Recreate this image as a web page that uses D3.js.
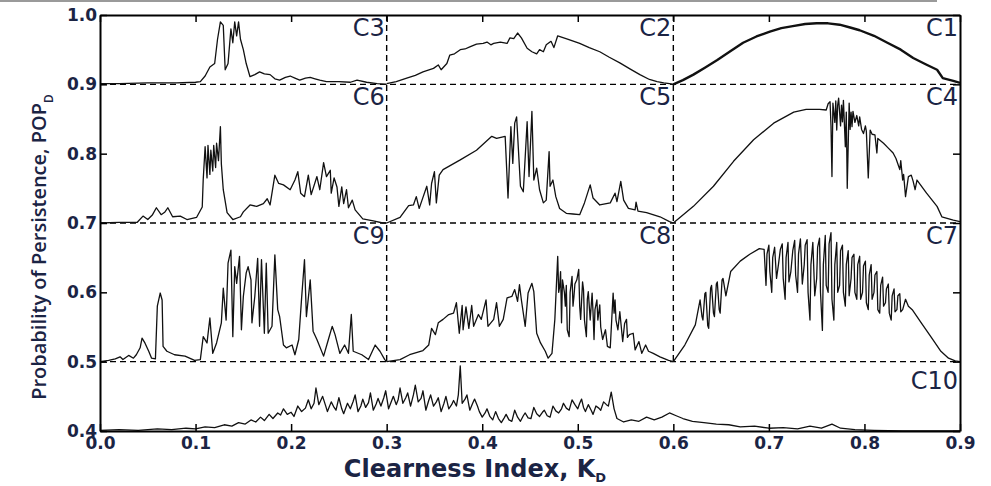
<!DOCTYPE html>
<html>
<head>
<meta charset="utf-8">
<script src="https://cdn.jsdelivr.net/npm/d3@7"></script>
<style>
  body { margin: 0; background: #fff; }
  svg { display: block; }
</style>
</head>
<body>
<svg id="chart" width="991" height="486"></svg>
<script>
// tick values
const xTicks = [0.0, 0.1, 0.2, 0.3, 0.4, 0.5, 0.6, 0.7, 0.8, 0.9];
const yTicks = [0.4, 0.5, 0.6, 0.7, 0.8, 0.9, 1.0];

// cell boundaries (dashed lines)
const hDash = [0.9, 0.7, 0.5];
const vDash = [0.3, 0.6];

// series, [K_D, POP_D]
const c1 = [[0.600,0.900],[0.610,0.906],[0.621,0.914],[0.633,0.924],[0.646,0.935],[0.660,0.948],[0.673,0.960],[0.687,0.969],[0.701,0.976],[0.713,0.981],[0.725,0.984],[0.738,0.987],[0.750,0.988],[0.762,0.988],[0.774,0.986],[0.785,0.982],[0.795,0.978],[0.810,0.970],[0.824,0.960],[0.838,0.950],[0.851,0.938],[0.864,0.929],[0.876,0.921],[0.882,0.909],[0.893,0.905],[0.900,0.902]];

const c2 = [[0.300,0.901],[0.310,0.904],[0.321,0.909],[0.330,0.913],[0.338,0.918],[0.349,0.923],[0.354,0.928],[0.357,0.921],[0.363,0.930],[0.366,0.942],[0.371,0.944],[0.377,0.950],[0.382,0.951],[0.387,0.954],[0.394,0.958],[0.401,0.959],[0.405,0.961],[0.409,0.957],[0.412,0.959],[0.419,0.961],[0.426,0.959],[0.429,0.967],[0.433,0.966],[0.437,0.974],[0.441,0.967],[0.447,0.952],[0.452,0.947],[0.457,0.944],[0.460,0.950],[0.464,0.947],[0.467,0.957],[0.472,0.962],[0.475,0.953],[0.479,0.970],[0.490,0.965],[0.502,0.959],[0.512,0.953],[0.523,0.947],[0.533,0.939],[0.544,0.931],[0.555,0.922],[0.565,0.914],[0.575,0.907],[0.583,0.904],[0.590,0.902],[0.596,0.901],[0.600,0.900]];

const c3 = [[0.000,0.901],[0.020,0.901],[0.050,0.902],[0.080,0.902],[0.100,0.903],[0.105,0.904],[0.110,0.912],[0.115,0.925],[0.120,0.930],[0.123,0.965],[0.126,0.990],[0.129,0.985],[0.131,0.921],[0.134,0.930],[0.137,0.980],[0.139,0.960],[0.141,0.990],[0.143,0.970],[0.145,0.990],[0.147,0.965],[0.150,0.950],[0.153,0.930],[0.157,0.911],[0.162,0.914],[0.167,0.918],[0.172,0.915],[0.178,0.914],[0.183,0.908],[0.188,0.906],[0.194,0.910],[0.199,0.912],[0.204,0.909],[0.209,0.906],[0.215,0.909],[0.220,0.910],[0.225,0.908],[0.230,0.906],[0.237,0.904],[0.250,0.904],[0.262,0.903],[0.269,0.906],[0.279,0.903],[0.290,0.901],[0.300,0.900]];

const c4 = [[0.600,0.700],[0.621,0.724],[0.642,0.753],[0.663,0.789],[0.684,0.820],[0.705,0.844],[0.726,0.860],[0.739,0.864],[0.753,0.864],[0.760,0.863],[0.762,0.872],[0.764,0.875],[0.765,0.840],[0.766,0.767],[0.767,0.873],[0.769,0.845],[0.770,0.876],[0.771,0.834],[0.772,0.870],[0.773,0.880],[0.775,0.840],[0.776,0.870],[0.777,0.846],[0.778,0.877],[0.780,0.810],[0.781,0.860],[0.782,0.750],[0.784,0.873],[0.785,0.835],[0.786,0.860],[0.787,0.839],[0.788,0.861],[0.790,0.845],[0.792,0.855],[0.794,0.840],[0.795,0.853],[0.797,0.835],[0.799,0.829],[0.801,0.840],[0.802,0.832],[0.804,0.765],[0.806,0.834],[0.808,0.828],[0.811,0.827],[0.813,0.801],[0.814,0.822],[0.820,0.815],[0.825,0.808],[0.830,0.801],[0.833,0.793],[0.835,0.785],[0.837,0.777],[0.838,0.790],[0.840,0.762],[0.841,0.770],[0.843,0.738],[0.846,0.767],[0.849,0.769],[0.851,0.760],[0.853,0.748],[0.855,0.762],[0.865,0.743],[0.876,0.724],[0.881,0.709],[0.893,0.704],[0.900,0.702]];

const c5 = [[0.300,0.700],[0.314,0.708],[0.323,0.725],[0.328,0.726],[0.331,0.738],[0.334,0.721],[0.337,0.733],[0.342,0.753],[0.345,0.726],[0.347,0.757],[0.350,0.774],[0.352,0.729],[0.355,0.769],[0.359,0.777],[0.377,0.791],[0.394,0.805],[0.410,0.825],[0.415,0.822],[0.424,0.825],[0.427,0.736],[0.430,0.839],[0.432,0.786],[0.434,0.844],[0.436,0.853],[0.440,0.753],[0.443,0.745],[0.447,0.846],[0.449,0.767],[0.452,0.861],[0.454,0.762],[0.457,0.779],[0.460,0.748],[0.464,0.729],[0.467,0.733],[0.470,0.803],[0.471,0.753],[0.474,0.762],[0.477,0.738],[0.481,0.721],[0.488,0.714],[0.495,0.713],[0.502,0.712],[0.507,0.729],[0.513,0.755],[0.516,0.736],[0.523,0.726],[0.534,0.729],[0.539,0.743],[0.541,0.731],[0.545,0.760],[0.548,0.733],[0.553,0.721],[0.560,0.719],[0.561,0.730],[0.563,0.717],[0.572,0.715],[0.586,0.709],[0.596,0.702],[0.600,0.700]];

const c6 = [[0.000,0.700],[0.020,0.701],[0.039,0.701],[0.045,0.710],[0.050,0.705],[0.055,0.712],[0.059,0.722],[0.064,0.712],[0.068,0.716],[0.071,0.722],[0.076,0.709],[0.084,0.710],[0.091,0.705],[0.101,0.708],[0.107,0.723],[0.108,0.762],[0.110,0.810],[0.112,0.765],[0.113,0.812],[0.115,0.770],[0.116,0.805],[0.118,0.775],[0.119,0.812],[0.121,0.780],[0.122,0.815],[0.124,0.790],[0.126,0.839],[0.127,0.785],[0.129,0.748],[0.133,0.715],[0.139,0.705],[0.147,0.709],[0.150,0.716],[0.157,0.726],[0.164,0.724],[0.171,0.728],[0.175,0.735],[0.178,0.726],[0.183,0.769],[0.187,0.757],[0.192,0.755],[0.199,0.748],[0.204,0.762],[0.207,0.774],[0.210,0.743],[0.214,0.738],[0.218,0.769],[0.221,0.741],[0.227,0.767],[0.230,0.748],[0.234,0.787],[0.237,0.767],[0.241,0.776],[0.242,0.743],[0.245,0.765],[0.248,0.752],[0.250,0.724],[0.253,0.752],[0.255,0.728],[0.258,0.748],[0.260,0.722],[0.264,0.733],[0.267,0.719],[0.275,0.706],[0.286,0.703],[0.296,0.700],[0.300,0.700]];

const c7 = [[0.600,0.500],[0.612,0.524],[0.623,0.553],[0.628,0.589],[0.630,0.565],[0.631,0.560],[0.633,0.598],[0.634,0.600],[0.636,0.552],[0.637,0.548],[0.639,0.606],[0.640,0.610],[0.642,0.570],[0.643,0.565],[0.645,0.612],[0.646,0.615],[0.648,0.575],[0.649,0.570],[0.651,0.618],[0.652,0.620],[0.655,0.595],[0.660,0.630],[0.670,0.645],[0.680,0.655],[0.690,0.663],[0.695,0.662],[0.697,0.610],[0.698,0.655],[0.700,0.668],[0.701,0.630],[0.703,0.600],[0.704,0.650],[0.706,0.665],[0.708,0.620],[0.710,0.640],[0.712,0.662],[0.714,0.670],[0.715,0.620],[0.717,0.590],[0.718,0.650],[0.720,0.672],[0.721,0.615],[0.723,0.630],[0.725,0.660],[0.727,0.675],[0.728,0.625],[0.730,0.600],[0.731,0.655],[0.733,0.677],[0.735,0.612],[0.737,0.640],[0.738,0.668],[0.740,0.676],[0.741,0.600],[0.743,0.560],[0.744,0.640],[0.746,0.672],[0.748,0.595],[0.750,0.620],[0.751,0.665],[0.753,0.678],[0.754,0.600],[0.756,0.545],[0.757,0.640],[0.759,0.682],[0.760,0.610],[0.762,0.600],[0.763,0.670],[0.765,0.686],[0.766,0.590],[0.768,0.560],[0.769,0.640],[0.771,0.672],[0.772,0.600],[0.774,0.610],[0.775,0.660],[0.777,0.668],[0.778,0.600],[0.780,0.580],[0.781,0.640],[0.783,0.660],[0.784,0.595],[0.786,0.620],[0.787,0.650],[0.789,0.655],[0.790,0.600],[0.792,0.590],[0.793,0.640],[0.795,0.652],[0.796,0.590],[0.798,0.600],[0.799,0.638],[0.801,0.645],[0.802,0.585],[0.804,0.575],[0.805,0.625],[0.807,0.640],[0.808,0.590],[0.810,0.600],[0.811,0.625],[0.813,0.630],[0.814,0.575],[0.816,0.570],[0.817,0.610],[0.819,0.622],[0.820,0.580],[0.822,0.585],[0.823,0.605],[0.825,0.612],[0.826,0.570],[0.828,0.560],[0.829,0.595],[0.831,0.605],[0.832,0.572],[0.834,0.575],[0.835,0.595],[0.837,0.598],[0.838,0.572],[0.840,0.575],[0.843,0.590],[0.846,0.580],[0.850,0.575],[0.860,0.555],[0.870,0.535],[0.880,0.515],[0.888,0.505],[0.895,0.501],[0.900,0.500]];

const c8 = [[0.300,0.500],[0.314,0.503],[0.324,0.510],[0.338,0.516],[0.344,0.524],[0.347,0.548],[0.351,0.539],[0.354,0.556],[0.359,0.561],[0.365,0.568],[0.370,0.570],[0.373,0.585],[0.376,0.541],[0.379,0.581],[0.380,0.546],[0.383,0.579],[0.386,0.548],[0.389,0.581],[0.391,0.551],[0.396,0.568],[0.399,0.561],[0.404,0.589],[0.406,0.551],[0.412,0.561],[0.415,0.585],[0.418,0.551],[0.422,0.561],[0.426,0.592],[0.431,0.594],[0.434,0.604],[0.437,0.587],[0.439,0.611],[0.441,0.589],[0.445,0.551],[0.448,0.599],[0.452,0.613],[0.454,0.601],[0.457,0.541],[0.461,0.527],[0.466,0.515],[0.469,0.505],[0.473,0.512],[0.476,0.561],[0.479,0.652],[0.480,0.600],[0.481,0.608],[0.482,0.630],[0.483,0.556],[0.484,0.618],[0.486,0.600],[0.487,0.580],[0.488,0.610],[0.489,0.546],[0.491,0.536],[0.492,0.600],[0.494,0.623],[0.495,0.580],[0.496,0.594],[0.497,0.612],[0.499,0.618],[0.501,0.633],[0.502,0.580],[0.503,0.561],[0.505,0.615],[0.506,0.604],[0.507,0.560],[0.509,0.536],[0.510,0.590],[0.511,0.601],[0.513,0.560],[0.515,0.599],[0.516,0.570],[0.517,0.532],[0.518,0.575],[0.520,0.589],[0.521,0.560],[0.523,0.582],[0.524,0.550],[0.526,0.532],[0.529,0.546],[0.531,0.522],[0.534,0.520],[0.537,0.599],[0.538,0.570],[0.539,0.589],[0.540,0.560],[0.542,0.546],[0.544,0.572],[0.547,0.529],[0.549,0.555],[0.551,0.561],[0.552,0.535],[0.554,0.539],[0.558,0.541],[0.560,0.517],[0.564,0.529],[0.567,0.512],[0.571,0.524],[0.574,0.515],[0.579,0.512],[0.586,0.507],[0.595,0.502],[0.600,0.500]];

const c9 = [[0.000,0.500],[0.009,0.502],[0.016,0.504],[0.021,0.507],[0.024,0.503],[0.030,0.509],[0.035,0.505],[0.038,0.510],[0.042,0.520],[0.044,0.534],[0.047,0.527],[0.051,0.515],[0.054,0.505],[0.058,0.504],[0.060,0.580],[0.063,0.599],[0.065,0.589],[0.066,0.522],[0.070,0.515],[0.078,0.510],[0.089,0.508],[0.099,0.502],[0.105,0.503],[0.108,0.536],[0.112,0.527],[0.115,0.563],[0.118,0.512],[0.122,0.527],[0.127,0.556],[0.129,0.606],[0.132,0.560],[0.134,0.642],[0.137,0.661],[0.139,0.536],[0.141,0.637],[0.143,0.613],[0.146,0.652],[0.148,0.546],[0.150,0.594],[0.153,0.628],[0.155,0.637],[0.158,0.618],[0.159,0.556],[0.162,0.594],[0.165,0.649],[0.167,0.551],[0.169,0.647],[0.172,0.541],[0.174,0.642],[0.176,0.541],[0.180,0.551],[0.183,0.654],[0.186,0.575],[0.188,0.565],[0.192,0.524],[0.195,0.520],[0.201,0.524],[0.204,0.510],[0.208,0.532],[0.211,0.592],[0.214,0.647],[0.216,0.565],[0.220,0.618],[0.223,0.544],[0.227,0.532],[0.234,0.508],[0.239,0.532],[0.243,0.551],[0.246,0.539],[0.251,0.512],[0.256,0.524],[0.260,0.512],[0.263,0.568],[0.265,0.515],[0.274,0.510],[0.281,0.503],[0.288,0.524],[0.293,0.515],[0.298,0.503],[0.300,0.500]];

const c10 = [[0.000,0.401],[0.020,0.402],[0.040,0.401],[0.060,0.403],[0.075,0.402],[0.090,0.404],[0.100,0.403],[0.110,0.406],[0.120,0.405],[0.130,0.409],[0.138,0.407],[0.145,0.412],[0.152,0.410],[0.158,0.416],[0.163,0.413],[0.168,0.420],[0.172,0.415],[0.177,0.424],[0.181,0.418],[0.186,0.426],[0.189,0.423],[0.192,0.432],[0.196,0.424],[0.200,0.427],[0.203,0.421],[0.207,0.436],[0.211,0.428],[0.215,0.433],[0.218,0.445],[0.221,0.432],[0.224,0.440],[0.226,0.462],[0.229,0.438],[0.233,0.450],[0.236,0.437],[0.238,0.428],[0.242,0.442],[0.245,0.434],[0.247,0.430],[0.250,0.448],[0.253,0.432],[0.255,0.425],[0.259,0.440],[0.262,0.432],[0.265,0.443],[0.267,0.452],[0.270,0.428],[0.273,0.436],[0.275,0.446],[0.278,0.434],[0.281,0.441],[0.283,0.455],[0.286,0.430],[0.289,0.439],[0.291,0.447],[0.294,0.436],[0.297,0.448],[0.299,0.458],[0.302,0.432],[0.305,0.443],[0.307,0.450],[0.310,0.438],[0.312,0.445],[0.314,0.462],[0.317,0.440],[0.320,0.448],[0.322,0.455],[0.325,0.436],[0.328,0.452],[0.330,0.466],[0.333,0.442],[0.336,0.447],[0.338,0.458],[0.341,0.430],[0.344,0.444],[0.346,0.452],[0.349,0.436],[0.352,0.442],[0.354,0.448],[0.357,0.428],[0.360,0.440],[0.362,0.450],[0.365,0.432],[0.368,0.438],[0.370,0.444],[0.373,0.436],[0.375,0.452],[0.377,0.494],[0.379,0.440],[0.382,0.446],[0.384,0.452],[0.387,0.430],[0.390,0.440],[0.392,0.446],[0.395,0.436],[0.397,0.428],[0.400,0.420],[0.403,0.426],[0.405,0.432],[0.408,0.421],[0.411,0.416],[0.414,0.428],[0.417,0.418],[0.420,0.412],[0.423,0.419],[0.425,0.424],[0.428,0.416],[0.431,0.414],[0.434,0.430],[0.437,0.420],[0.440,0.414],[0.443,0.422],[0.445,0.426],[0.448,0.419],[0.451,0.418],[0.454,0.434],[0.457,0.425],[0.460,0.421],[0.463,0.427],[0.465,0.430],[0.468,0.422],[0.471,0.420],[0.474,0.436],[0.477,0.429],[0.480,0.426],[0.483,0.432],[0.485,0.440],[0.488,0.433],[0.491,0.430],[0.494,0.445],[0.497,0.438],[0.500,0.432],[0.502,0.440],[0.504,0.446],[0.506,0.434],[0.508,0.428],[0.511,0.438],[0.514,0.430],[0.516,0.424],[0.519,0.436],[0.522,0.433],[0.524,0.430],[0.527,0.442],[0.530,0.438],[0.532,0.436],[0.535,0.456],[0.538,0.432],[0.541,0.418],[0.548,0.413],[0.556,0.416],[0.564,0.414],[0.572,0.420],[0.580,0.416],[0.588,0.420],[0.596,0.426],[0.603,0.422],[0.610,0.418],[0.620,0.414],[0.632,0.412],[0.645,0.410],[0.658,0.409],[0.670,0.406],[0.685,0.407],[0.700,0.404],[0.715,0.405],[0.730,0.403],[0.743,0.407],[0.755,0.404],[0.766,0.410],[0.775,0.404],[0.790,0.402],[0.810,0.401],[0.840,0.400],[0.900,0.400]];

// cell labels: name, right edge x, top y
const cellLabels = [
  ["C3", 0.3, 1.0], ["C2", 0.6, 1.0], ["C1", 0.9, 1.0],
  ["C6", 0.3, 0.9], ["C5", 0.6, 0.9], ["C4", 0.9, 0.9],
  ["C9", 0.3, 0.7], ["C8", 0.6, 0.7], ["C7", 0.9, 0.7],
  ["C10", 0.9, 0.5]
];

const svg = d3.select("#chart");
const textColor = "#1b2444";

const x = d3.scaleLinear().domain([0, 0.9]).range([100, 960]);
const y = d3.scaleLinear().domain([0.4, 1.0]).range([431, 15]);

// thin gray rule at very top
svg.append("line")
  .attr("x1", 0).attr("x2", 937).attr("y1", 1).attr("y2", 1)
  .attr("stroke", "#9a9a9a").attr("stroke-width", 2);

// dashed cell dividers
svg.append("g").selectAll("line")
  .data(hDash)
  .enter().append("line")
  .attr("x1", x(0)).attr("x2", x(0.9))
  .attr("y1", d => y(d)).attr("y2", d => y(d))
  .attr("stroke", "#000").attr("stroke-width", 1.4)
  .attr("stroke-dasharray", "6,4");

svg.append("g").selectAll("line")
  .data(vDash)
  .enter().append("line")
  .attr("x1", d => x(d)).attr("x2", d => x(d))
  .attr("y1", y(1.0)).attr("y2", y(0.5))
  .attr("stroke", "#000").attr("stroke-width", 1.4)
  .attr("stroke-dasharray", "6,4");

// series
const line = d3.line().x(d => x(d[0])).y(d => y(d[1]));
const series = [
  { data: c1, w: 2.4 }, { data: c2, w: 1.3 }, { data: c3, w: 1.3 },
  { data: c4, w: 1.3 }, { data: c5, w: 1.3 }, { data: c6, w: 1.3 },
  { data: c7, w: 1.3 }, { data: c8, w: 1.3 }, { data: c9, w: 1.3 },
  { data: c10, w: 1.3 }
];
svg.append("g").selectAll("path")
  .data(series)
  .enter().append("path")
  .attr("fill", "none")
  .attr("stroke", "#111")
  .attr("stroke-width", d => d.w)
  .attr("stroke-linejoin", "round")
  .attr("d", d => line(d.data));

// cell labels
svg.append("g").selectAll("text")
  .data(cellLabels)
  .enter().append("text")
  .attr("x", d => x(d[1]) - 2)
  .attr("y", d => y(d[2]) + (d[0] === "C10" ? 27 : 21))
  .attr("text-anchor", "end")
  .attr("font-family", "DejaVu Sans, sans-serif")
  .attr("font-size", 24)
  .attr("fill", textColor)
  .text(d => d[0]);

// axes (ticks point inward)
const fmt = d3.format(".1f");
const styleAxis = g => {
  g.selectAll(".domain").attr("stroke", "#000").attr("stroke-width", 2);
  g.selectAll(".tick line").attr("stroke", "#000").attr("stroke-width", 1.5);
  g.selectAll("text")
    .attr("font-family", "DejaVu Sans, sans-serif")
    .attr("font-size", 17)
    .attr("font-weight", "bold")
    .attr("fill", textColor);
};

svg.append("g")
  .attr("transform", `translate(0,${y(0.4)})`)
  .call(d3.axisBottom(x).tickValues(xTicks).tickFormat(fmt).tickSize(-7).tickSizeOuter(0).tickPadding(6))
  .call(styleAxis);

svg.append("g")
  .attr("transform", `translate(${x(0)},0)`)
  .call(d3.axisLeft(y).tickValues(yTicks).tickFormat(fmt).tickSize(-7).tickSizeOuter(0).tickPadding(3))
  .call(styleAxis);

svg.append("g")
  .attr("transform", `translate(0,${y(1.0)})`)
  .call(d3.axisTop(x).tickValues(xTicks).tickFormat("").tickSize(-7).tickSizeOuter(0))
  .call(styleAxis);

svg.append("g")
  .attr("transform", `translate(${x(0.9)},0)`)
  .call(d3.axisRight(y).tickValues(yTicks).tickFormat("").tickSize(-7).tickSizeOuter(0))
  .call(styleAxis);

// axis titles
const xTitle = svg.append("text")
  .attr("x", 475).attr("y", 477)
  .attr("text-anchor", "middle")
  .attr("font-family", "DejaVu Sans, sans-serif")
  .attr("font-size", 24)
  .attr("font-weight", "bold")
  .attr("fill", textColor);
xTitle.append("tspan").text("Clearness Index, K");
xTitle.append("tspan").attr("dy", 5).attr("font-size", 13).text("D");

const yTitle = svg.append("text")
  .attr("transform", "translate(46,247) rotate(-90)")
  .attr("text-anchor", "middle")
  .attr("font-family", "Open Sans, sans-serif")
  .attr("font-size", 20)
  .attr("font-weight", 600)
  .attr("fill", textColor);
yTitle.append("tspan").text("Probability of Persistence, POP");
yTitle.append("tspan").attr("dy", 7).attr("font-size", 12).text("D");
</script>
</body>
</html>
